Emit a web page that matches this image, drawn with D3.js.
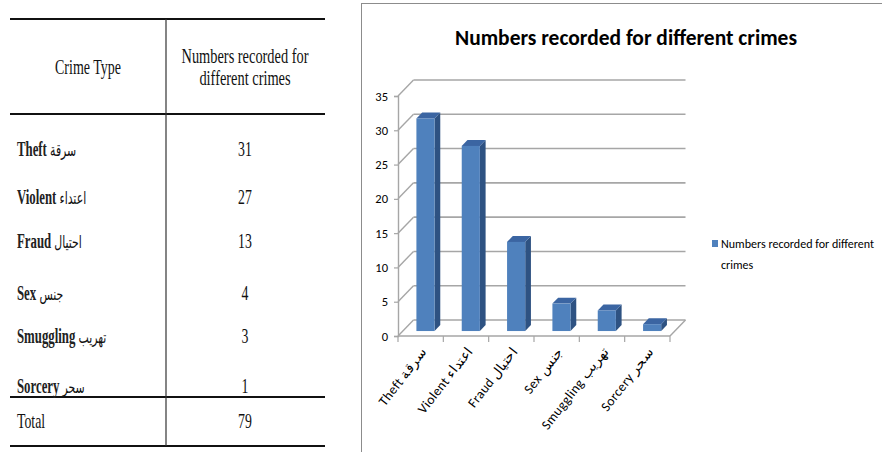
<!DOCTYPE html>
<html>
<head>
<meta charset="utf-8">
<script src="https://cdn.jsdelivr.net/npm/d3@7"></script>
<style>
  html, body { margin: 0; padding: 0; background: #ffffff; }
  svg { display: block; }
</style>
</head>
<body>
<svg id="view" width="882" height="452"></svg>
<script>
// Recorded crimes by type (English / Arabic names)
const categories = ["Theft", "Violent", "Fraud", "Sex", "Smuggling", "Sorcery"];
const arabicNames = ["سرقة", "اعتداء", "احتيال", "جنس", "تهريب", "سحر"];
const values = [31, 27, 13, 4, 3, 1];
const yTicks = [0, 5, 10, 15, 20, 25, 30, 35];
const seriesName = "Numbers recorded for different crimes";
const tableHeaders = ["Crime Type", "Numbers recorded for", "different crimes"];

const svg = d3.select("#view");

// ---------- Table ----------
const table = svg.append("g");
const serif = "'Liberation Serif', 'Times New Roman', serif";
const sx = 0.69;
const rowBase = [156, 204, 248, 300, 343, 393];
const tLeft = 10, tRight = 325, tDiv = 166;

function hline(y, w) {
  table.append("line").attr("x1", tLeft).attr("x2", tRight)
    .attr("y1", y).attr("y2", y).attr("stroke", "#111").attr("stroke-width", w);
}
hline(19, 1.8); hline(114, 1.8); hline(397, 1.8); hline(446, 1.8);
table.append("line").attr("x1", tDiv).attr("x2", tDiv).attr("y1", 19).attr("y2", 446)
  .attr("stroke", "#333").attr("stroke-width", 1.2);

function cellText(x, y, anchor, scale) {
  return table.append("text")
    .attr("transform", `translate(${x},${y}) scale(${scale || sx},1)`)
    .attr("text-anchor", anchor)
    .attr("font-family", serif).attr("font-size", 20).attr("fill", "#111");
}
cellText(88, 74, "middle", 0.7).text(tableHeaders[0]);
cellText(245, 63, "middle", 0.72).text(tableHeaders[1]);
cellText(245, 85, "middle", 0.72).text(tableHeaders[2]);

categories.forEach((c, i) => {
  const t = cellText(17, rowBase[i], "start", 0.64);
  t.append("tspan").attr("font-weight", "bold").attr("fill", "#222").text(c + "  ");
  t.append("tspan").attr("font-family", "'DejaVu Sans', sans-serif")
    .attr("font-size", 17).text(arabicNames[i]);
  cellText(245, rowBase[i], "middle").text(values[i]);
});
cellText(17, 428, "start").text("Total");
cellText(245, 428, "middle").text(d3.sum(values));

// ---------- Chart ----------
const chart = svg.append("g");
const sans = "Carlito, Lato, 'Liberation Sans', sans-serif";

chart.append("rect").attr("x", 361.5).attr("y", 3.5).attr("width", 540).attr("height", 470)
  .attr("fill", "#fff").attr("stroke", "#8c8c8c").attr("stroke-width", 1);

chart.append("text").attr("x", 626).attr("y", 45).attr("text-anchor", "middle")
  .attr("font-family", sans).attr("font-weight", "bold").attr("font-size", 22)
  .attr("textLength", 342).attr("lengthAdjust", "spacingAndGlyphs")
  .attr("fill", "#000").text(seriesName);

const x0 = 398, x1 = 670;
const depth = { x: 15.5, y: -16 };
const x = d3.scaleBand().domain(categories).range([x0, x1]).padding(0);
const y = d3.scaleLinear().domain([0, 35]).range([336, 96]);
const grid = "#a6a6a6";

// side wall diagonals and back wall gridlines
yTicks.forEach(t => {
  const yy = y(t);
  chart.append("line").attr("x1", x0).attr("y1", yy)
    .attr("x2", x0 + depth.x).attr("y2", yy + depth.y)
    .attr("stroke", grid).attr("stroke-width", 1.4);
  chart.append("line").attr("x1", x0 + depth.x).attr("y1", yy + depth.y)
    .attr("x2", x1 + depth.x).attr("y2", yy + depth.y)
    .attr("stroke", grid).attr("stroke-width", 1.6);
});

// front value axis
const yAxis = d3.axisLeft(y).tickValues(yTicks).tickSize(4).tickPadding(6);
const ya = chart.append("g").attr("transform", `translate(${x0},0)`).call(yAxis);
ya.select(".domain").attr("stroke", grid).attr("stroke-width", 1.4);
ya.selectAll(".tick line").attr("stroke", grid).attr("stroke-width", 1.2);
ya.selectAll(".tick text").attr("font-family", sans).attr("font-size", 12.5).attr("fill", "#000");

// floor edges
const y0 = y(0);
chart.append("line").attr("x1", x0).attr("y1", y0).attr("x2", x1).attr("y2", y0)
  .attr("stroke", grid).attr("stroke-width", 1.4);
chart.append("line").attr("x1", x1).attr("y1", y0).attr("x2", x1 + depth.x).attr("y2", y0 + depth.y)
  .attr("stroke", grid).attr("stroke-width", 1.4);
const bounds = categories.map(c => x(c)).concat([x1]);
bounds.forEach(b => {
  chart.append("line").attr("x1", b).attr("x2", b).attr("y1", y0).attr("y2", y0 + 6)
    .attr("stroke", grid).attr("stroke-width", 1.2);
});

// 3D columns
const bw = x.bandwidth();
const barW = bw * 0.4;
const f = 0.31, bd = 0.37;
const ddx = depth.x * bd, ddy = depth.y * bd;
const bars = chart.append("g").selectAll("g").data(categories).join("g");
bars.each(function (c, i) {
  const g = d3.select(this);
  const fx = x(c) + (bw - barW) / 2 + depth.x * f;
  const fyb = y(0) + depth.y * f;
  const fyt = y(values[i]) + depth.y * f;
  g.append("polygon")
    .attr("points", [[fx + barW, fyt], [fx + barW + ddx, fyt + ddy], [fx + barW + ddx, fyb + ddy], [fx + barW, fyb]].join(" "))
    .attr("fill", "#2e5282");
  g.append("polygon")
    .attr("points", [[fx, fyt], [fx + ddx, fyt + ddy], [fx + barW + ddx, fyt + ddy], [fx + barW, fyt]].join(" "))
    .attr("fill", "#3b65a2");
  g.append("rect").attr("x", fx).attr("y", fyt).attr("width", barW).attr("height", fyb - fyt)
    .attr("fill", "#4f81bd");
});

// rotated category labels
categories.forEach((c, i) => {
  const cx = x(c) + bw / 2 + 7;
  chart.append("text")
    .attr("transform", `translate(${cx},${y0 + 16}) rotate(-52)`)
    .attr("text-anchor", "end")
    .attr("font-family", sans).attr("font-size", 13.5).attr("fill", "#000")
    .attr("letter-spacing", 0.4)
    .text(c + "  " + arabicNames[i]);
});

// legend
chart.append("rect").attr("x", 712).attr("y", 240).attr("width", 6).attr("height", 7).attr("fill", "#4f81bd");
chart.append("text").attr("x", 721).attr("y", 248).attr("font-family", sans).attr("font-size", 12)
  .attr("textLength", 153).attr("lengthAdjust", "spacingAndGlyphs")
  .attr("fill", "#000").text("Numbers recorded for different");
chart.append("text").attr("x", 721).attr("y", 269).attr("font-family", sans).attr("font-size", 12)
  .attr("fill", "#000").text("crimes");
</script>
</body>
</html>
